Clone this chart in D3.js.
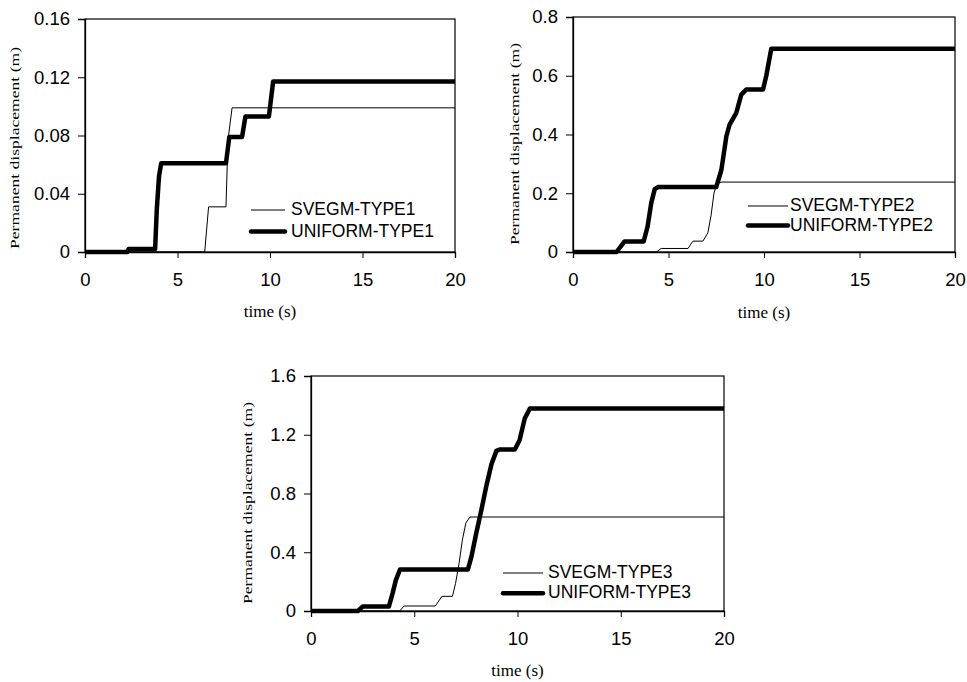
<!DOCTYPE html>
<html>
<head>
<meta charset="utf-8">
<script src="https://cdn.jsdelivr.net/npm/d3@7"></script>
<style>
  body { margin: 0; background: #fff; }
</style>
</head>
<body>
<div id="chart"></div>
<script>
// tick values
var timeTicks = [0, 5, 10, 15, 20];
var dispTicks1 = [0, 0.04, 0.08, 0.12, 0.16];
var dispTicks2 = [0, 0.2, 0.4, 0.6, 0.8];
var dispTicks3 = [0, 0.4, 0.8, 1.2, 1.6];

// [time (s), permanent displacement (m)]
var svegm1 = [[0, 0], [6.47, 0], [6.68, 0.031], [7.62, 0.031], [7.73, 0.077], [7.95, 0.099], [20, 0.099]];
var uniform1 = [[0, 0], [2.3, 0], [2.36, 0.002], [3.79, 0.002], [3.88, 0.029], [4.0, 0.052], [4.12, 0.061],
  [7.62, 0.061], [7.8, 0.079], [8.49, 0.079], [8.67, 0.093], [9.94, 0.093], [10.17, 0.117], [20, 0.117]];

var svegm2 = [[0, 0], [4.36, 0], [4.62, 0.012], [6.02, 0.012], [6.28, 0.037], [6.8, 0.037], [7.06, 0.065],
  [7.23, 0.125], [7.38, 0.2], [7.55, 0.235], [7.8, 0.238], [20, 0.238]];
var uniform2 = [[0, 0], [2.28, 0], [2.7, 0.036], [3.7, 0.036], [3.9, 0.085], [4.1, 0.168], [4.28, 0.214],
  [4.45, 0.221], [7.5, 0.221], [7.77, 0.28], [8.03, 0.394], [8.2, 0.434], [8.55, 0.474], [8.81, 0.536],
  [9.07, 0.553], [9.95, 0.553], [10.12, 0.6], [10.38, 0.692], [20, 0.692]];

var svegm3 = [[0, 0], [4.3, 0], [4.5, 0.034], [6.02, 0.034], [6.34, 0.1], [6.85, 0.1], [7.0, 0.188],
  [7.17, 0.324], [7.33, 0.483], [7.5, 0.6], [7.7, 0.64], [20, 0.64]];
var uniform3 = [[0, 0], [2.27, 0], [2.5, 0.03], [3.77, 0.03], [3.95, 0.12], [4.11, 0.21], [4.31, 0.283],
  [7.6, 0.283], [7.77, 0.37], [8.0, 0.528], [8.25, 0.687], [8.5, 0.857], [8.74, 1.0], [8.98, 1.09],
  [9.14, 1.1], [9.87, 1.1], [10.1, 1.163], [10.35, 1.31], [10.6, 1.379], [20, 1.379]];

var seriesNames1 = ["SVEGM-TYPE1", "UNIFORM-TYPE1"];
var seriesNames2 = ["SVEGM-TYPE2", "UNIFORM-TYPE2"];
var seriesNames3 = ["SVEGM-TYPE3", "UNIFORM-TYPE3"];

var sansFont = "'Liberation Sans', Arial, sans-serif";
var serifFont = "'Liberation Serif', 'Times New Roman', serif";

var svg = d3.select("#chart")
  .append("svg")
  .attr("width", 967)
  .attr("height", 682);

// panel boxes are in page pixels
var panels = [
  { left: 85, right: 455, top: 19, bottom: 252, yMax: 0.16, yTicks: dispTicks1,
    thin: svegm1, thick: uniform1, names: seriesNames1,
    legend: { x1: 251, x2: 285, tx: 291, y: [215, 236.5] },
    yTitle: { x: 19, y: 148 }, xTitleY: 317 },
  { left: 573, right: 955, top: 17, bottom: 252, yMax: 0.8, yTicks: dispTicks2,
    thin: svegm2, thick: uniform2, names: seriesNames2,
    legend: { x1: 748, x2: 788, tx: 790, y: [211, 230.5] },
    yTitle: { x: 519, y: 144 }, xTitleY: 318 },
  { left: 311, right: 724, top: 376, bottom: 611, yMax: 1.6, yTicks: dispTicks3,
    thin: svegm3, thick: uniform3, names: seriesNames3,
    legend: { x1: 503, x2: 543, tx: 548, y: [578, 598.3] },
    yTitle: { x: 252, y: 503 }, xTitleY: 676 }
];

panels.forEach(function(p) {
  var x = d3.scaleLinear().domain([0, 20]).range([p.left, p.right]);
  var y = d3.scaleLinear().domain([0, p.yMax]).range([p.bottom, p.top]);

  var g = svg.append("g");

  // frame
  g.append("rect")
    .attr("x", p.left)
    .attr("y", p.top)
    .attr("width", p.right - p.left)
    .attr("height", p.bottom - p.top)
    .attr("fill", "none")
    .attr("stroke", "#000")
    .attr("stroke-width", 1.2);

  var xAxis = g.append("g")
    .attr("transform", "translate(0," + p.bottom + ")")
    .call(d3.axisBottom(x).tickValues(timeTicks).tickSize(6).tickPadding(15)
      .tickFormat(function(d) { return String(d); }));

  var yAxis = g.append("g")
    .attr("transform", "translate(" + p.left + ",0)")
    .call(d3.axisLeft(y).tickValues(p.yTicks).tickSize(7).tickPadding(8)
      .tickFormat(function(d) { return String(d); }));

  [xAxis, yAxis].forEach(function(a) {
    a.select(".domain").attr("stroke-width", 1.3);
    a.selectAll(".tick line").attr("stroke-width", 1);
    a.selectAll("text")
      .attr("fill", "#000")
      .style("font-family", sansFont)
      .style("font-size", "18.5px");
  });

  var line = d3.line()
    .x(function(d) { return x(d[0]); })
    .y(function(d) { return y(d[1]); });

  g.append("path")
    .datum(p.thin)
    .attr("d", line)
    .attr("fill", "none")
    .attr("stroke", "#000")
    .attr("stroke-width", 1);

  g.append("path")
    .datum(p.thick)
    .attr("d", line)
    .attr("fill", "none")
    .attr("stroke", "#000")
    .attr("stroke-width", 4.5)
    .attr("stroke-linejoin", "round");

  // legend
  var widths = [1, 4.5];
  p.names.forEach(function(name, i) {
    var by = p.legend.y[i];
    g.append("line")
      .attr("x1", p.legend.x1)
      .attr("x2", p.legend.x2)
      .attr("y1", by - 5)
      .attr("y2", by - 5)
      .attr("stroke", "#000")
      .attr("stroke-width", widths[i])
      .attr("stroke-linecap", i === 1 ? "round" : "butt");
    g.append("text")
      .attr("x", p.legend.tx)
      .attr("y", by)
      .style("font-family", sansFont)
      .style("font-size", "17.5px")
      .text(name);
  });

  // axis titles
  g.append("text")
    .attr("transform", "translate(" + p.yTitle.x + "," + p.yTitle.y + ") rotate(-90)")
    .attr("text-anchor", "middle")
    .attr("textLength", 202)
    .attr("lengthAdjust", "spacingAndGlyphs")
    .style("font-family", serifFont)
    .style("font-size", "13px")
    .text("Permanent displacement (m)");

  g.append("text")
    .attr("x", (p.left + p.right) / 2)
    .attr("y", p.xTitleY)
    .attr("text-anchor", "middle")
    .style("font-family", serifFont)
    .style("font-size", "17px")
    .text("time (s)");
});
</script>
</body>
</html>
